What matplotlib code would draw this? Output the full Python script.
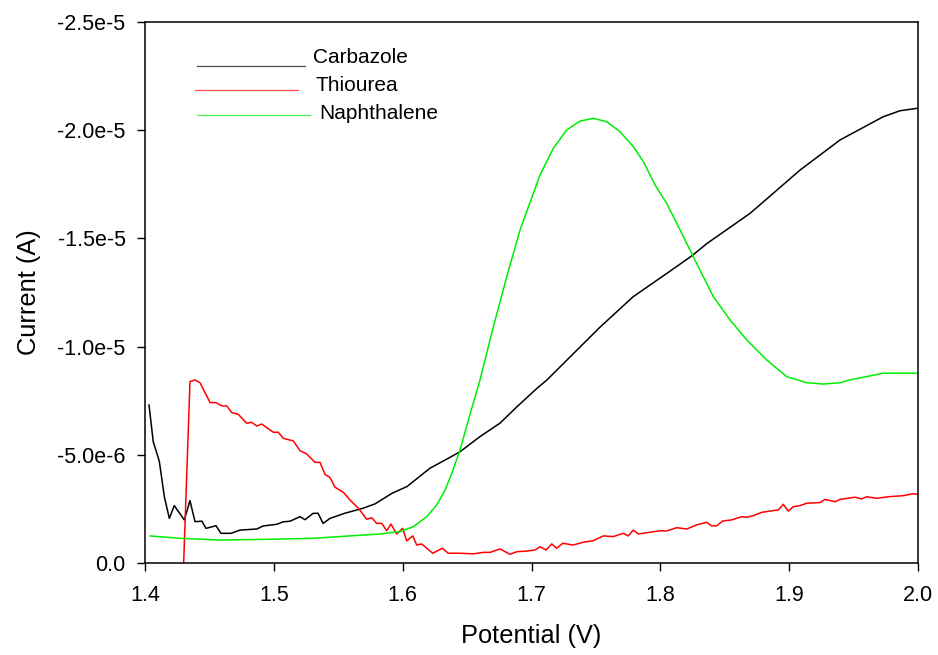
import matplotlib
matplotlib.use("Agg")
import matplotlib.pyplot as plt
import numpy as np

plt.rcParams['font.family'] = ['Liberation Sans', 'DejaVu Sans']

# Carbazole scan, potential (V) and current magnitude (uA)
carb_v = [1.4031, 1.4064, 1.4111, 1.4150, 1.4189, 1.4227, 1.4305, 1.4349, 1.4388, 1.4442,
          1.4473, 1.4551, 1.4590, 1.4668, 1.4737, 1.4869, 1.4916, 1.5025, 1.5071, 1.5126,
          1.5203, 1.5242, 1.5304, 1.5343, 1.5382, 1.5436, 1.5552, 1.5692, 1.5785, 1.5917,
          1.6033, 1.6212, 1.6367, 1.6445, 1.6600, 1.6755, 1.6887, 1.7042, 1.7120, 1.7532,
          1.7788, 1.8052, 1.8246, 1.8363, 1.8697, 1.9085, 1.9395, 1.9729, 1.9861, 1.9992]
carb_i = [7.30, 5.60, 4.70, 3.06, 2.06, 2.65, 1.99, 2.88, 1.91, 1.93,
          1.60, 1.72, 1.37, 1.37, 1.52, 1.57, 1.71, 1.79, 1.90, 1.93,
          2.14, 2.00, 2.29, 2.30, 1.83, 2.06, 2.30, 2.53, 2.73, 3.22,
          3.53, 4.38, 4.88, 5.14, 5.84, 6.46, 7.22, 8.07, 8.46, 10.90,
          12.30, 13.39, 14.20, 14.77, 16.16, 18.16, 19.55, 20.62, 20.90, 21.01]

# Thiourea scan
thio_v = [1.4297, 1.4349, 1.4388, 1.4427, 1.4505, 1.4551, 1.4595, 1.4634, 1.4673, 1.4724,
          1.4789, 1.4828, 1.4867, 1.4906, 1.4996, 1.5035, 1.5073, 1.5151, 1.5203, 1.5255,
          1.5320, 1.5358, 1.5397, 1.5436, 1.5475, 1.5539, 1.5591, 1.5656, 1.5721, 1.5760,
          1.5798, 1.5837, 1.5876, 1.5909, 1.5954, 1.6000, 1.6031, 1.6078, 1.6109, 1.6148,
          1.6233, 1.6308, 1.6354, 1.6445, 1.6548, 1.6626, 1.6678, 1.6756, 1.6833, 1.6885,
          1.6963, 1.7027, 1.7066, 1.7113, 1.7157, 1.7196, 1.7242, 1.7324, 1.7402, 1.7480,
          1.7557, 1.7635, 1.7713, 1.7751, 1.7790, 1.7829, 1.7920, 1.7997, 1.8049, 1.8127,
          1.8205, 1.8282, 1.8360, 1.8399, 1.8438, 1.8484, 1.8554, 1.8632, 1.8670, 1.8722,
          1.8787, 1.8877, 1.8916, 1.8954, 1.8993, 1.9032, 1.9084, 1.9136, 1.9239, 1.9278,
          1.9356, 1.9395, 1.9511, 1.9563, 1.9602, 1.9680, 1.9769, 1.9886, 1.9963, 2.0002]
thio_i = [-0.50, 8.38, 8.46, 8.33, 7.41, 7.41, 7.26, 7.26, 6.95, 6.87,
          6.46, 6.50, 6.33, 6.42, 6.04, 6.04, 5.76, 5.64, 5.19, 5.04,
          4.65, 4.65, 4.10, 3.94, 3.50, 3.27, 2.91, 2.53, 2.02, 2.09,
          1.83, 1.83, 1.49, 1.80, 1.34, 1.60, 1.02, 1.25, 0.83, 0.88,
          0.45, 0.68, 0.45, 0.45, 0.42, 0.49, 0.49, 0.65, 0.40, 0.52,
          0.55, 0.60, 0.75, 0.60, 0.88, 0.68, 0.91, 0.83, 0.96, 1.03,
          1.25, 1.22, 1.37, 1.25, 1.52, 1.34, 1.42, 1.49, 1.48, 1.63,
          1.57, 1.76, 1.88, 1.71, 1.72, 1.94, 1.99, 2.14, 2.11, 2.19,
          2.34, 2.42, 2.45, 2.71, 2.40, 2.60, 2.65, 2.76, 2.79, 2.94,
          2.83, 2.94, 3.04, 2.96, 3.06, 2.99, 3.06, 3.11, 3.20, 3.17]

# Naphthalene scan
naph_v = [1.4039, 1.4272, 1.4582, 1.4916, 1.5304, 1.5692, 1.5824, 1.5979, 1.6083, 1.6187,
          1.6264, 1.6329, 1.6381, 1.6445, 1.6510, 1.6600, 1.6704, 1.6808, 1.6911, 1.7066,
          1.7169, 1.7273, 1.7376, 1.7480, 1.7584, 1.7687, 1.7790, 1.7868, 1.7959, 1.8049,
          1.8153, 1.8256, 1.8411, 1.8541, 1.8670, 1.8826, 1.8981, 1.9136, 1.9265, 1.9395,
          1.9472, 1.9731, 1.9990]
naph_i = [1.25, 1.14, 1.06, 1.09, 1.14, 1.29, 1.34, 1.45, 1.68, 2.14,
          2.68, 3.37, 4.14, 5.22, 6.61, 8.46, 10.92, 13.23, 15.39, 17.93,
          19.16, 20.01, 20.42, 20.55, 20.39, 19.93, 19.24, 18.55, 17.47, 16.62,
          15.39, 14.15, 12.31, 11.23, 10.31, 9.38, 8.61, 8.33, 8.27, 8.33,
          8.46, 8.77, 8.77]

yticks = [0, -5e-6, -1e-5, -1.5e-5, -2e-5, -2.5e-5]
ytick_labels = ["0.0", "-5.0e-6", "-1.0e-5", "-1.5e-5", "-2.0e-5", "-2.5e-5"]
xticks = [1.4, 1.5, 1.6, 1.7, 1.8, 1.9, 2.0]

series = [("Carbazole", carb_v, carb_i, "black"),
          ("Thiourea", thio_v, thio_i, "#ff0000"),
          ("Naphthalene", naph_v, naph_i, "#00ee00")]

fig = plt.figure(figsize=(9.38, 6.55), dpi=100)
ax = fig.add_axes([0.1546, 0.1405, 0.8241, 0.8259])

for name, v, i, c in series:
    ax.plot(v, -np.array(i) * 1e-6, color=c, lw=1.1, label=name)

ax.set_xlim(1.4, 2.0)
ax.set_ylim(0, -2.5e-5)
ax.set_xticks(xticks)
ax.set_xticklabels(["%.1f" % t for t in xticks])
ax.set_yticks(yticks)
ax.set_yticklabels(ytick_labels)
ax.tick_params(direction='out', length=6, width=1, labelsize=15.5)
ax.tick_params(axis='x', pad=10)
ax.tick_params(axis='y', pad=8)
for s in ax.spines.values():
    s.set_linewidth(1.1)

ax.set_xlabel("Potential (V)", fontsize=18.3, labelpad=13)
ax.set_ylabel("Current (A)", fontsize=18.3, labelpad=12)

# legend drawn by hand: short line then name
# (line x0, line x1, line y, text x, text y) in axes fraction
leg = [(0.067, 0.207, 0.9187, 0.217, 0.935),
       (0.065, 0.198, 0.8743, 0.221, 0.8835),
       (0.067, 0.214, 0.8281, 0.225, 0.830)]
for (x0, x1, y, tx, ty), (name, v, i, c) in zip(leg, series):
    ax.plot([x0, x1], [y, y], color=c, lw=0.9, alpha=0.7, transform=ax.transAxes)
    ax.text(tx, ty, name, fontsize=15, transform=ax.transAxes, va='center')

fig.savefig("out.png", dpi=100)
